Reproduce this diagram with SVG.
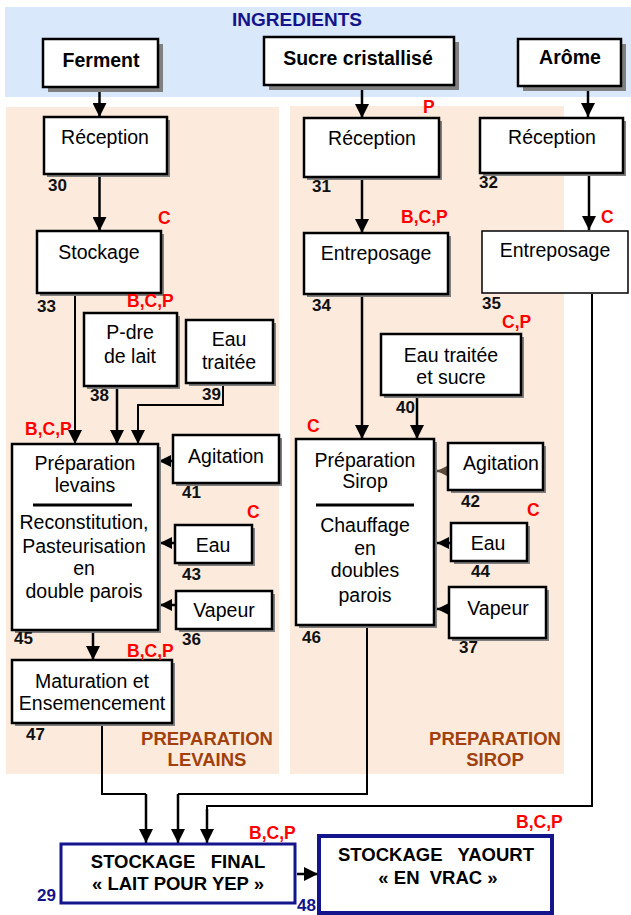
<svg xmlns="http://www.w3.org/2000/svg" width="631" height="915" viewBox="0 0 631 915">
<defs>
<marker id="ah" markerUnits="userSpaceOnUse" markerWidth="14" markerHeight="14" refX="14" refY="7" orient="auto"><path d="M0,0 L14,7 L0,14 z" fill="#000"/></marker>
<marker id="ahs" markerUnits="userSpaceOnUse" markerWidth="12" markerHeight="12" refX="12" refY="6" orient="auto"><path d="M0,0 L12,6 L0,12 z" fill="#000"/></marker>
<marker id="ahb" markerUnits="userSpaceOnUse" markerWidth="12" markerHeight="12" refX="12" refY="6" orient="auto"><path d="M0,0 L12,6 L0,12 z" fill="#5a4a3a"/></marker>
</defs>
<style>
text{font-family:"Liberation Sans",Arial,sans-serif}
.lb{font-size:19.5px;fill:#000;text-anchor:middle}
.ing{font-size:19.5px;font-weight:bold;fill:#000;text-anchor:middle}
.num{font-size:17px;font-weight:bold;fill:#111}
.red{font-size:17.5px;font-weight:bold;fill:#ff0000}
.nav{font-size:17px;font-weight:bold;fill:#14148c}
.brn{font-size:18.5px;font-weight:bold;fill:#a0410d;text-anchor:middle}
.fin{font-size:18.5px;font-weight:bold;fill:#000;text-anchor:middle;white-space:pre}
.box{fill:#fff;stroke:#000;stroke-width:2.5}
.sh{fill:#808080}
.c{fill:none;stroke:#000;stroke-width:2.5}
.t{fill:none;stroke:#000;stroke-width:2}
</style>
<rect x="5" y="7" width="626" height="90" fill="#d9e9fb"/>
<rect x="6" y="107" width="273" height="667" fill="#fcebdd"/>
<rect x="290" y="106" width="274" height="668" fill="#fcebdd"/>
<text x="297" y="26" font-size="19" font-weight="bold" fill="#14148c" text-anchor="middle" style="font-family:'Liberation Sans',Arial,sans-serif">INGREDIENTS</text>

<g id="connectors">
<line class="c" x1="99.5" y1="92" x2="99.5" y2="117" marker-end="url(#ah)"/>
<line class="c" x1="99.5" y1="175" x2="99.5" y2="231" marker-end="url(#ah)"/>
<line class="t" x1="75" y1="294" x2="75" y2="444" marker-end="url(#ah)"/>
<line class="c" x1="117" y1="387" x2="117" y2="444" marker-end="url(#ah)"/>
<polyline class="t" points="223,384 223,405 138,405 138,444" marker-end="url(#ah)"/>
<line class="c" x1="173" y1="461" x2="159" y2="461" marker-end="url(#ahs)"/>
<line class="c" x1="175" y1="543" x2="160" y2="543" marker-end="url(#ahs)"/>
<line class="c" x1="176" y1="605" x2="160" y2="605" marker-end="url(#ahs)"/>
<line class="c" x1="93" y1="632" x2="93" y2="660" marker-end="url(#ah)"/>
<line class="c" x1="362" y1="90" x2="362" y2="118" marker-end="url(#ah)"/>
<line class="c" x1="362" y1="178" x2="362" y2="233" marker-end="url(#ah)"/>
<line class="c" x1="362" y1="295" x2="362" y2="439" marker-end="url(#ah)"/>
<line class="c" x1="417" y1="396" x2="417" y2="439" marker-end="url(#ah)"/>
<line x1="448" y1="471" x2="437" y2="471" stroke="#5a4a3a" stroke-width="2.5" marker-end="url(#ahb)"/>
<line class="c" x1="451" y1="543" x2="437" y2="543" marker-end="url(#ahs)"/>
<line class="c" x1="449" y1="609" x2="437" y2="609" marker-end="url(#ahs)"/>
<line class="c" x1="588" y1="89" x2="588" y2="117" marker-end="url(#ah)"/>
<line class="c" x1="589" y1="174" x2="589" y2="230" marker-end="url(#ah)"/>
<polyline class="t" points="592,294 592,806 207,806 207,809"/>
<line class="c" x1="207" y1="809" x2="207" y2="843" marker-end="url(#ah)"/>
<polyline class="t" points="102,724 102,794 146,794"/>
<line class="c" x1="146" y1="794" x2="146" y2="843" marker-end="url(#ah)"/>
<polyline class="t" points="367,626 367,794 178,794"/>
<line class="c" x1="178" y1="794" x2="178" y2="843" marker-end="url(#ah)"/>
<line class="c" x1="297" y1="874" x2="318" y2="874" marker-end="url(#ah)"/>
</g>

<g id="ferment"><rect class="sh" x="48" y="44" width="115" height="48"/><rect class="box" x="43" y="39" width="115" height="48"/><text class="ing" x="101" y="67">Ferment</text></g>
<g id="sucre"><rect class="sh" x="269" y="42" width="190" height="48"/><rect class="box" x="264" y="37" width="190" height="48"/><text class="ing" x="358" y="65">Sucre cristallisé</text></g>
<g id="arome"><rect class="sh" x="523" y="44" width="103" height="47"/><rect class="box" x="518" y="39" width="103" height="47"/><text class="ing" x="570" y="64">Arôme</text></g>

<g id="n30"><rect class="sh" x="47" y="120" width="123" height="57"/><rect class="box" x="44" y="117" width="123" height="57"/><text class="lb" x="105" y="144">Réception</text><text class="num" x="48" y="191">30</text></g>
<g id="n33"><rect class="sh" x="40" y="234" width="124" height="62"/><rect class="box" x="37" y="231" width="124" height="62"/><text class="lb" x="99" y="259">Stockage</text><text class="red" x="158" y="224">C</text><text class="num" x="37" y="312">33</text></g>
<g id="n38"><rect class="sh" x="87" y="316" width="93" height="73"/><rect class="box" x="84" y="313" width="93" height="73"/><text class="lb" x="130" y="339">P-dre</text><text class="lb" x="130" y="363">de lait</text><text class="red" x="127" y="307">B,C,P</text><text class="num" x="90" y="401">38</text></g>
<g id="n39"><rect class="sh" x="189" y="323" width="87" height="63"/><rect class="box" x="186" y="320" width="87" height="63"/><text class="lb" x="229" y="346">Eau</text><text class="lb" x="229" y="369">traitée</text><text class="num" x="202" y="400">39</text></g>
<g id="n45"><rect class="sh" x="15" y="447" width="146" height="186"/><rect class="box" x="12" y="444" width="146" height="186"/><text class="lb" x="85" y="470">Préparation</text><text class="lb" x="85" y="492">levains</text><line x1="33" y1="505" x2="132" y2="505" stroke="#000" stroke-width="3"/><text class="lb" x="84" y="529">Reconstitution,</text><text class="lb" x="84" y="553">Pasteurisation</text><text class="lb" x="84" y="575">en</text><text class="lb" x="84" y="598">double parois</text><text class="red" x="25" y="435">B,C,P</text><text class="num" x="14" y="644">45</text></g>
<g id="n41"><rect class="sh" x="176" y="438" width="106" height="48"/><rect class="box" x="173" y="435" width="106" height="48"/><text class="lb" x="226" y="463">Agitation</text><text class="num" x="182" y="498">41</text></g>
<g id="n43"><rect class="sh" x="178" y="528" width="77" height="38"/><rect class="box" x="175" y="525" width="77" height="38"/><text class="lb" x="213" y="552">Eau</text><text class="red" x="247" y="518">C</text><text class="num" x="182" y="580">43</text></g>
<g id="n36"><rect class="sh" x="179" y="594" width="96" height="38"/><rect class="box" x="176" y="591" width="96" height="38"/><text class="lb" x="224" y="617">Vapeur</text><text class="num" x="182" y="645">36</text></g>
<g id="n47"><rect class="sh" x="15" y="663" width="160" height="63"/><rect class="box" x="12" y="660" width="160" height="63"/><text class="lb" x="92" y="688">Maturation et</text><text class="lb" x="92" y="710">Ensemencement</text><text class="red" x="127" y="657">B,C,P</text><text class="num" x="26" y="740">47</text></g>

<g id="n31"><rect class="sh" x="307" y="121" width="135" height="59"/><rect class="box" x="304" y="118" width="135" height="59"/><text class="lb" x="372" y="145">Réception</text><text class="red" x="423" y="113">P</text><text class="num" x="312" y="192">31</text></g>
<g id="n34"><rect class="sh" x="307" y="236" width="144" height="61"/><rect class="box" x="304" y="233" width="144" height="61"/><text class="lb" x="376" y="260">Entreposage</text><text class="red" x="401" y="223">B,C,P</text><text class="num" x="312" y="311">34</text></g>
<g id="n40"><rect class="sh" x="384" y="337" width="140" height="61"/><rect class="box" x="381" y="334" width="140" height="61"/><text class="lb" x="451" y="362">Eau traitée</text><text class="lb" x="451" y="384">et sucre</text><text class="red" x="502" y="328">C,P</text><text class="num" x="396" y="413">40</text></g>
<g id="n46"><rect class="sh" x="299" y="442" width="138" height="186"/><rect class="box" x="296" y="439" width="138" height="186"/><text class="lb" x="365" y="467">Préparation</text><text class="lb" x="365" y="488">Sirop</text><line x1="316" y1="505" x2="414" y2="505" stroke="#000" stroke-width="3"/><text class="lb" x="365" y="532">Chauffage</text><text class="lb" x="365" y="555">en</text><text class="lb" x="365" y="577">doubles</text><text class="lb" x="365" y="602">parois</text><text class="red" x="307" y="432">C</text><text class="num" x="302" y="643">46</text></g>
<g id="n42"><rect class="sh" x="451" y="446" width="95" height="47"/><rect class="box" x="448" y="443" width="95" height="47"/><text class="lb" x="501" y="470">Agitation</text><text class="num" x="461" y="507">42</text></g>
<g id="n44"><rect class="sh" x="454" y="526" width="76" height="38"/><rect class="box" x="451" y="523" width="76" height="38"/><text class="lb" x="488" y="550">Eau</text><text class="red" x="527" y="516">C</text><text class="num" x="471" y="577">44</text></g>
<g id="n37"><rect class="sh" x="452" y="590" width="97" height="51"/><rect class="box" x="449" y="587" width="97" height="51"/><text class="lb" x="498" y="615">Vapeur</text><text class="num" x="459" y="653">37</text></g>

<g id="n32"><rect class="sh" x="483" y="121" width="143" height="55"/><rect class="box" x="480" y="118" width="143" height="55"/><text class="lb" x="552" y="144">Réception</text><text class="num" x="479" y="188">32</text></g>
<g id="n35"><rect x="482" y="231" width="146" height="62" fill="#fff" stroke="#000" stroke-width="1.5"/><text class="lb" x="555" y="257">Entreposage</text><text class="red" x="601" y="223">C</text><text class="num" x="482" y="309">35</text></g>

<g id="labels"><text class="brn" x="207" y="745">PREPARATION</text><text class="brn" x="207" y="766">LEVAINS</text><text class="brn" x="495" y="745">PREPARATION</text><text class="brn" x="495" y="766">SIROP</text></g>

<g id="n29"><rect x="61" y="844" width="234" height="59" fill="#fff" stroke="#14148c" stroke-width="3"/><text class="fin" x="178" y="868">STOCKAGE   FINAL</text><text class="fin" x="178" y="890">« LAIT POUR YEP »</text><text class="red" x="249" y="839">B,C,P</text><text class="nav" x="37" y="901">29</text></g>
<g id="n48"><rect x="319" y="836" width="233" height="77" fill="#fff" stroke="#14148c" stroke-width="4"/><text class="fin" x="436" y="861">STOCKAGE   YAOURT</text><text class="fin" x="438" y="884">« EN  VRAC »</text><text class="red" x="516" y="828">B,C,P</text><text class="nav" x="297" y="911">48</text></g>
</svg>
